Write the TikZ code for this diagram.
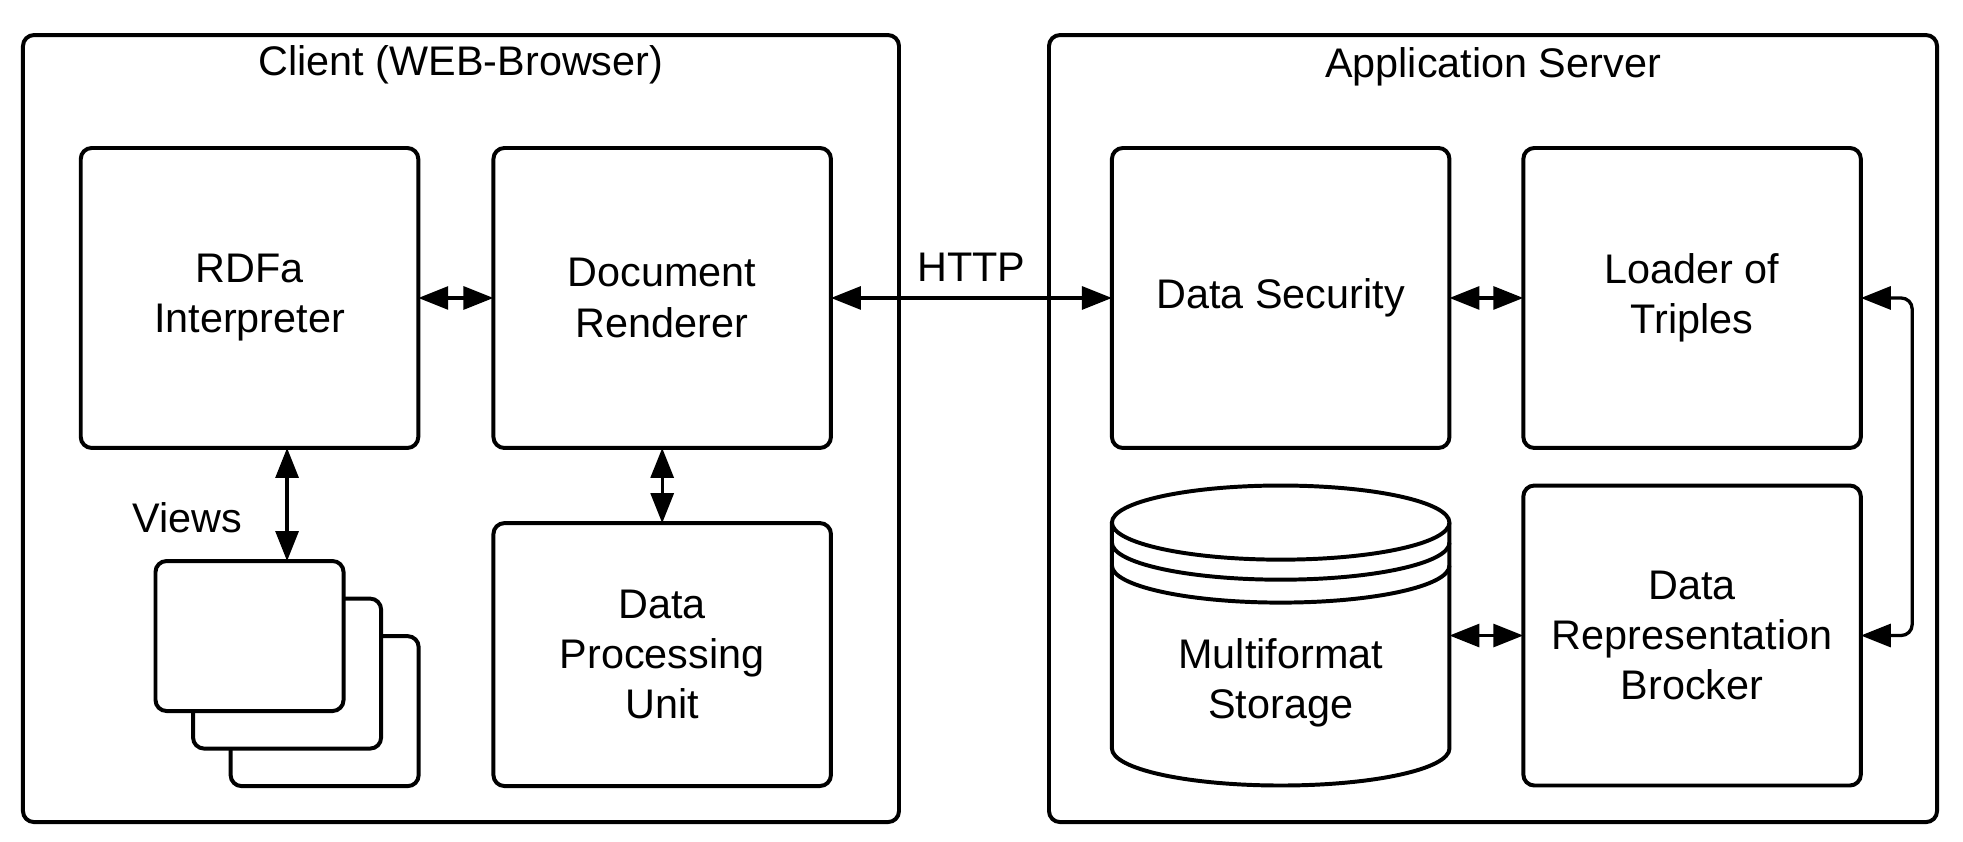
\documentclass[tikz,border=0pt]{standalone}
\usepackage{fontspec}
\setmainfont{Liberation Sans}
\usetikzlibrary{positioning, arrows.meta}

\begin{document}
\begin{tikzpicture}[node distance=0.6cm,
        font=\fontsize{9.4pt}{11.4pt}\selectfont,
        frame/.style={draw, line width=0.9pt, rounded corners=2.5pt, outer sep=0pt, minimum height=6.286cm},
        block/.style={draw, line width=0.9pt, rounded corners=2.5pt, outer sep=0pt, align=center, minimum width=2.696cm, minimum height=2.396cm},
        view/.style={draw, line width=0.9pt, rounded corners=2.5pt, outer sep=0pt, fill=white, minimum width=1.502cm, minimum height=1.198cm},
        arr/.style={line width=0.75pt, {Triangle[length=6.8pt, width=5.2pt]}-{Triangle[length=6.8pt, width=5.2pt]}}]
        \useasboundingbox (0,0) rectangle (15.679,-6.725);

        \node[frame, minimum width=6.997cm]                 (client)       at (3.682,-3.423) {};
        \node[frame, minimum width=7.093cm]                 (server)       at (11.925,-3.423) {};
        \node                                               (client title) at ([yshift=-0.24cm]client.north) {Client (WEB-Browser)};
        \node                                               (server title) at ([yshift=-0.25cm]server.north) {Application Server};

        \node[block]                                        (rdfa)     at (1.993,-2.380) {RDFa\\Interpreter};
        \node[block, right=of rdfa]                         (doc)      {Document\\Renderer};
        \node[block, below=of doc, minimum height=2.10cm]   (dpu)      {Data\\Processing\\Unit};
        \node[block, right=2.244cm of doc]                  (security) {Data Security};
        \node[block, right=0.59cm of security]              (loader)   {Loader of\\Triples};
        \node[block, below=0.3cm of loader]                 (broker)   {Data\\Representation\\Brocker};
        \node[outer sep=0pt, minimum width=2.696cm, minimum height=2.396cm, below=0.3cm of security] (store) {};
        \node[align=center]                                 (store text) at ([yshift=-0.378cm]store.center) {Multiformat\\Storage};

        \node[view]                                         (view 3)   at (2.593,-5.680) {};
        \node[view]                                         (view 2)   at (2.293,-5.380) {};
        \node[view]                                         (view 1)   at (1.993,-5.080) {};
        \node                                               (views)    at (1.494,-4.137) {Views};

        \draw[line width=0.9pt] ([yshift=-0.296cm]store.north west) -- ([yshift=0.296cm]store.south west)
            arc[start angle=180, end angle=360, x radius=1.348cm, y radius=0.296cm] -- ([yshift=-0.296cm]store.north east);
        \draw[line width=0.9pt] ([yshift=-0.296cm]store.north) ellipse [x radius=1.348cm, y radius=0.296cm];
        \draw[line width=0.9pt] ([yshift=-0.456cm]store.north west) arc[start angle=180, end angle=360, x radius=1.348cm, y radius=0.296cm];
        \draw[line width=0.9pt] ([yshift=-0.639cm]store.north west) arc[start angle=180, end angle=360, x radius=1.348cm, y radius=0.296cm];

        \draw[arr] (rdfa) -- (doc);
        \draw[arr] (doc) -- (dpu);
        \draw[arr] ([xshift=0.3cm]rdfa.south) -- ([xshift=0.3cm]view 1.north);
        \draw[arr] (doc) -- node[above] (http) {HTTP} (security);
        \draw[arr] (security) -- (loader);
        \draw[arr] (store) -- (broker);
        \draw[arr, rounded corners=2.5pt] (loader.east) -- ++(0.41,0) |- (broker.east);
    \end{tikzpicture}
\end{document}
